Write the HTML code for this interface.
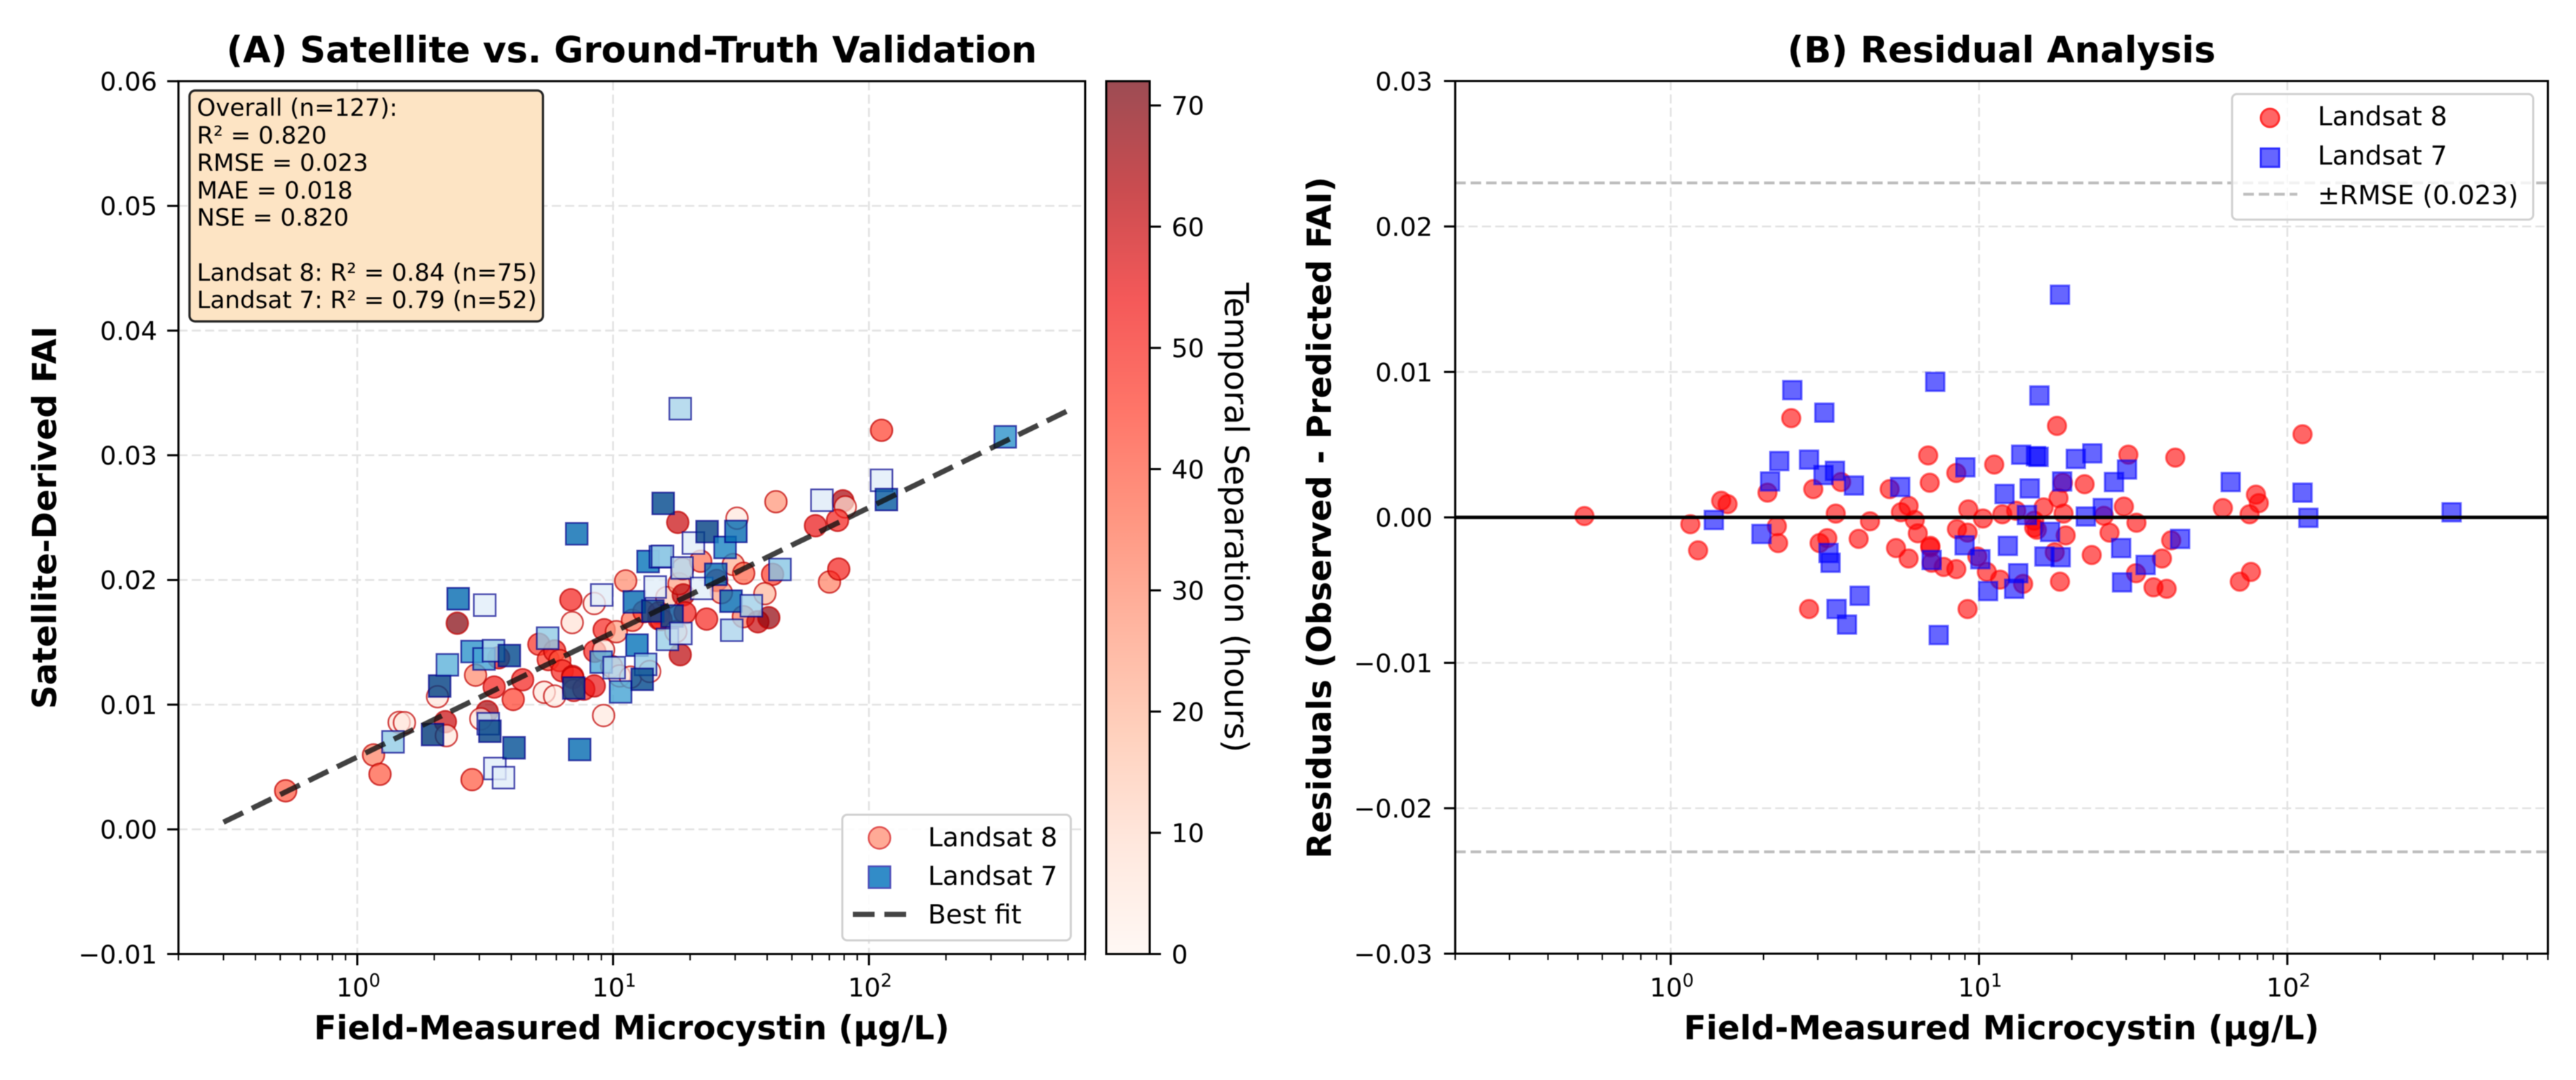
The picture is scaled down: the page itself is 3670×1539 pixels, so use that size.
<!DOCTYPE html>
<html lang="en">
<head>
<meta charset="utf-8">
<title>Satellite vs. Ground-Truth Validation</title>
<style>
html,body{margin:0;padding:0;background:#fff;}
svg{display:block;filter:blur(0.6px);}
text{font-family:"DejaVu Sans","Liberation Sans",sans-serif;fill:#000;}
.tick{font-size:36.7px;}
.leg{font-size:37.5px;}
.sup{font-size:25.7px;}
.bold{font-weight:bold;}
.title{font-size:51.3px;font-weight:bold;}
.axlabel{font-size:47px;font-weight:bold;}
.box{font-size:34.1px;}
</style>
</head>
<body>
<svg id="figure" xmlns="http://www.w3.org/2000/svg" width="3670" height="1539" viewBox="0 0 3670 1539">
  <rect x="0" y="0" width="3670" height="1539" fill="#fff"/>
  <g id="panelA"></g>
  <g id="panelB"></g>

  <text class="title" x="900" y="89" text-anchor="middle">(A) Satellite vs. Ground-Truth Validation</text>
  <text class="title" x="2851.5" y="89" text-anchor="middle">(B) Residual Analysis</text>
  <text class="axlabel" x="900" y="1481" text-anchor="middle">Field-Measured Microcystin (µg/L)</text>
  <text class="axlabel" x="2851.5" y="1481" text-anchor="middle">Field-Measured Microcystin (µg/L)</text>
  <text class="axlabel" transform="translate(80,737.6) rotate(-90)" text-anchor="middle">Satellite-Derived FAI</text>
  <text class="axlabel" transform="translate(1896,737.6) rotate(-90)" text-anchor="middle">Residuals (Observed - Predicted FAI)</text>
  <text transform="translate(1745,737.6) rotate(90)" text-anchor="middle" font-size="47">Temporal Separation (hours)</text>

  <g>
    <rect x="270" y="129" width="503.5" height="329" rx="8" ry="8" fill="#fde4c4" stroke="#222" stroke-width="3.2"/>
    <text class="box" x="280.5" y="165">Overall (n=127):</text>
    <text class="box" x="280.5" y="204.5">R² = 0.820</text>
    <text class="box" x="280.5" y="243.5">RMSE = 0.023</text>
    <text class="box" x="280.5" y="283">MAE = 0.018</text>
    <text class="box" x="280.5" y="321.5">NSE = 0.820</text>
    <text class="box" x="280.5" y="400">Landsat 8: R² = 0.84 (n=75)</text>
    <text class="box" x="280.5" y="439">Landsat 7: R² = 0.79 (n=52)</text>
  </g>

  <g>
    <rect x="1200" y="1161" width="325.5" height="179" rx="7" ry="7" fill="#fff" fill-opacity="0.85" stroke="#d0d0d0" stroke-width="3"/>
    <circle cx="1253" cy="1194" r="15.5" fill="#ffaa96" stroke="#e05050" stroke-width="2.4"/>
    <rect x="1237.5" y="1234.5" width="31" height="31" fill="#328cc8" stroke="#4d4db9" stroke-width="2.4"/>
    <line x1="1215" y1="1303" x2="1292" y2="1303" stroke="#444" stroke-width="7.5" stroke-dasharray="31 14"/>
    <text class="leg" x="1322" y="1206">Landsat 8</text>
    <text class="leg" x="1322" y="1261">Landsat 7</text>
    <text class="leg" x="1322" y="1316">Best fit</text>
  </g>

  <g>
    <rect x="3180" y="134" width="429" height="179" rx="7" ry="7" fill="#fff" fill-opacity="0.8" stroke="#d0d0d0" stroke-width="3"/>
    <circle cx="3234" cy="168" r="13" fill="#ff6666" stroke="#ff2f2f" stroke-width="3"/>
    <rect x="3221" y="211.7" width="26" height="26" fill="#6666ff" stroke="#2f2fff" stroke-width="3"/>
    <line x1="3196" y1="276.7" x2="3273" y2="276.7" stroke="#bdbdbd" stroke-width="4" stroke-dasharray="15 7"/>
    <text class="leg" x="3302" y="178.5">Landsat 8</text>
    <text class="leg" x="3302" y="234.5">Landsat 7</text>
    <text class="leg" x="3302" y="291">±RMSE (0.023)</text>
  </g>
</svg>

<script>
/* ---------- data ---------- */
const l8Field = [0.525,1.158,1.227,1.458,1.529,2.06,2.21,2.23,2.46,2.90,3.43,3.57,4.43,4.07,3.22,3.04,2.81,5.13,5.58,5.91,6.19,6.33,6.95,6.95,5.38,5.91,7.02,7.68,8.44,6.84,6.92,8.44,9.23,10.3,8.48,9.18,9.18,11.2,11.9,13.2,9.87,10.6,11.7,13.9,16.2,18.1,18.7,18.8,15.1,15.1,15.4,19.1,17.6,18.3,22.0,30.5,25.4,29.5,32.4,26.5,23.2,42.0,39.2,32.3,36.8,40.6,43.3,61.8,70.1,17.9,79.1,80.8,75.4,76.2,112];
const l8Residual = [0.00009,-0.00047,-0.00227,0.00114,0.00091,0.0017,-0.00061,-0.00177,0.00682,0.00194,0.00026,0.00243,-0.00027,-0.00148,-0.00143,-0.00177,-0.0063,0.00194,0.00035,0.00079,-0.00018,-0.0011,-0.00196,-0.00206,-0.00211,-0.00283,-0.00312,-0.00341,-0.00356,0.00426,0.00238,0.00305,0.00055,-0.00008,-0.00081,-0.00105,-0.0063,0.00363,0.00021,0.00045,-0.00269,-0.00375,-0.00428,-0.00457,0.00069,0.00132,0.00238,0.00026,-0.00023,-0.00071,-0.00085,-0.00124,-0.0024,-0.00442,0.00228,0.00431,0.00011,0.00074,-0.00037,-0.00105,-0.00259,-0.00158,-0.00283,-0.00384,-0.00481,-0.00491,0.00411,0.00064,-0.00442,0.00629,0.00156,0.00098,0.00021,-0.00375,0.00571];
const l8Hours = [40,32,40,6,5,6,60,5,70,30,52,55,52,45,65,6,40,48,45,50,40,50,50,50,6,4,40,50,55,52,8,4,50,25,50,8,5,30,35,45,25,6,6,6,15,25,20,62,55,50,50,52,15,62,35,6,55,22,38,25,50,45,20,33,60,68,28,55,32,60,65,8,52,52,45];

const l7Field = [1.38,1.97,2.10,2.25,2.48,3.15,2.81,3.13,3.41,3.93,3.25,3.30,3.45,4.10,3.73,5.55,7.21,7.40,9.03,8.98,7.02,10.1,12.1,12.4,10.7,13.4,13.0,13.7,15.3,15.6,20.6,23.3,18.6,14.6,14.3,22.2,25.2,17.0,16.3,18.4,15.7,27.4,30.2,28.9,34.7,29.1,44.9,65.5,18.3,112,117,341];
const l7Residual = [-0.00018,-0.00114,0.00247,0.00387,0.00875,0.0072,0.00397,0.00291,0.0032,0.00219,-0.00245,-0.00312,-0.0063,-0.00539,-0.00737,0.00209,0.00932,-0.00809,0.00344,-0.00192,-0.00293,-0.00288,0.00161,-0.00196,-0.00507,-0.00384,-0.00491,0.00431,0.00421,0.00416,0.00402,0.0044,0.00247,0.00199,0.00016,0.00006,0.00064,-0.001,-0.00269,-0.00274,0.00838,0.00243,0.00329,-0.00211,-0.00327,-0.00447,-0.00148,0.00243,0.01531,0.0017,-0.00003,0.00035];
const l7Hours = [28,68,66,38,56,8,46,42,28,64,20,66,8,62,8,28,56,56,8,40,64,20,56,54,42,28,64,54,42,25,8,66,18,8,64,8,56,62,26,14,64,50,56,56,24,20,30,9,22,8,60,46];

const fitIntercept = 0.0058;
const fitSlope = 0.01;
const fitDomain = [0.3, 600];
const rmseValue = 0.023;

const xDecades = [0, 1, 2];
const xDecadeLabels = ["0", "1", "2"];
const yTicksA = [-0.01, 0, 0.01, 0.02, 0.03, 0.04, 0.05, 0.06];
const yTickLabelsA = ["\u22120.01","0.00","0.01","0.02","0.03","0.04","0.05","0.06"];
const yTicksB = [-0.03, -0.02, -0.01, 0, 0.01, 0.02, 0.03];
const yTickLabelsB = ["\u22120.03","\u22120.02","\u22120.01","0.00","0.01","0.02","0.03"];
const cbarTicks = [0, 10, 20, 30, 40, 50, 60, 70];
const cbarLabels = ["0","10","20","30","40","50","60","70"];
const redsMap = [[255,245,240],[255,222,208],[255,190,162],[255,150,120],[255,105,75],[255,58,40],[240,18,18],[180,0,5],[115,0,10]];
const bluesMap = [[247,251,255],[222,235,248],[180,215,238],[150,205,230],[105,185,222],[50,150,205],[5,115,185],[0,75,145],[0,40,100]];

/* ---------- helpers ---------- */
const NS = 'http://www.w3.org/2000/svg';
function mk(tag, attrs, parent) {
  const e = document.createElementNS(NS, tag);
  for (const k in attrs) e.setAttribute(k, attrs[k]);
  parent.appendChild(e);
  return e;
}
const HOURS_MAX = 72;
function cmap(table, h) {
  const t = Math.max(0, Math.min(1, h / HOURS_MAX)) * (table.length - 1);
  const i = Math.min(table.length - 2, Math.floor(t));
  const f = t - i;
  const c = [0, 1, 2].map(j => Math.round(table[i][j] + (table[i + 1][j] - table[i][j]) * f));
  return 'rgb(' + c.join(',') + ')';
}
function makeScales(x0, x1, y0, y1, yMin, yMax) {
  const lo = Math.log10(0.2), hi = Math.log10(700);
  return {
    x: v => x0 + (Math.log10(v) - lo) / (hi - lo) * (x1 - x0),
    y: v => y0 + (v - yMin) / (yMax - yMin) * (y1 - y0),
    x0, x1, y0, y1
  };
}
const fitValue = x => fitIntercept + fitSlope * Math.log10(x);

const axA = makeScales(254.2, 1546, 1359.5, 115.7, -0.01, 0.06);
const axB = makeScales(2073.2, 3630, 1359, 115.5, -0.03, 0.03);

function drawGrid(ax, yTicks, parent) {
  const g = mk('g', {}, parent);
  
  
  xDecades.forEach(d => {
    const px = ax.x(Math.pow(10, d));
    const l = mk('line', {x1: px, x2: px, y1: ax.y1, y2: ax.y0, stroke: '#e2e2e2', 'stroke-width': 2.6, 'stroke-dasharray': '13 6'}, g);
    
    
  });
  yTicks.forEach(v => {
    const py = ax.y(v);
    const l = mk('line', {x1: ax.x0, x2: ax.x1, y1: py, y2: py, stroke: '#e2e2e2', 'stroke-width': 2.6, 'stroke-dasharray': '13 6'}, g);
    
    
  });
}

function drawAxes(ax, yTicks, yLabels, labelX, parent) {
  const g = mk('g', {}, parent);
  
  
  const frame = mk('rect', {x: ax.x0, y: ax.y1, width: ax.x1 - ax.x0, height: ax.y0 - ax.y1, fill: 'none', stroke: '#000', 'stroke-width': 3}, g);
  
  
  yTicks.forEach((v, i) => {
    const py = ax.y(v);
    const t = mk('line', {x1: ax.x0 - 16, x2: ax.x0, y1: py, y2: py, stroke: '#000', 'stroke-width': 3}, g);
    
    
    const lab = mk('text', {x: labelX, y: py + 13.3, 'text-anchor': 'end', class: 'tick'}, g);
    lab.textContent = yLabels[i];
    
    
  });
  for (let dec = -1; dec <= 2; dec++) {
    for (let m = 2; m <= 9; m++) {
      const v = m * Math.pow(10, dec);
      if (v < 0.2 - 1e-9 || v > 700 + 1e-6) continue;
      const px = ax.x(v);
      const t = mk('line', {x1: px, x2: px, y1: ax.y0, y2: ax.y0 + 9, stroke: '#000', 'stroke-width': 2}, g);
      
      
    }
  }
  xDecades.forEach((d, i) => {
    const px = ax.x(Math.pow(10, d));
    const t = mk('line', {x1: px, x2: px, y1: ax.y0, y2: ax.y0 + 16, stroke: '#000', 'stroke-width': 3}, g);
    
    
    const lab = mk('text', {x: px + 1.5, y: 1420, 'text-anchor': 'middle', class: 'tick'}, g);
    
    
    lab.appendChild(document.createTextNode('10'));
    const sup = mk('tspan', {class: 'sup', dy: -14}, lab);
    sup.textContent = xDecadeLabels[i];
  });
}

/* ---------- panel A ---------- */
const panelA = document.getElementById('panelA');
drawGrid(axA, yTicksA, panelA);

const l8GroupA = mk('g', {}, panelA);


l8Field.forEach((x, i) => {
  const c = mk('circle', {
    cx: axA.x(x), cy: axA.y(fitValue(x) + l8Residual[i]), r: 15.5,
    fill: cmap(redsMap, l8Hours[i]), 'fill-opacity': 0.7,
    stroke: '#c00000', 'stroke-opacity': 0.7, 'stroke-width': 2.4
  }, l8GroupA);
  
  
});

const l7GroupA = mk('g', {}, panelA);


l7Field.forEach((x, i) => {
  const s = mk('rect', {
    x: axA.x(x) - 15.5, y: axA.y(fitValue(x) + l7Residual[i]) - 15.5, width: 31, height: 31,
    fill: cmap(bluesMap, l7Hours[i]), 'fill-opacity': 0.8,
    stroke: '#00008b', 'stroke-opacity': 0.7, 'stroke-width': 2.4
  }, l7GroupA);
  
  
});

const fitLine = mk('line', {
  x1: axA.x(fitDomain[0]), y1: axA.y(fitValue(fitDomain[0])),
  x2: axA.x(fitDomain[1]), y2: axA.y(fitValue(fitDomain[1])),
  stroke: '#111', 'stroke-opacity': 0.8, 'stroke-width': 7.5, 'stroke-dasharray': '31 14'
}, panelA);



drawAxes(axA, yTicksA, yTickLabelsA, 224, panelA);

/* colorbar */
const cbX0 = 1576, cbX1 = 1638, cbTop = 115.7, cbBottom = 1359.5;
const cbY = h => cbBottom + (cbTop - cbBottom) * h / HOURS_MAX;
const cbG = mk('g', {}, panelA);


const defs = mk('defs', {}, cbG);
const grad = mk('linearGradient', {id: 'cbGrad', x1: 0, y1: 1, x2: 0, y2: 0}, defs);
for (let i = 0; i <= 16; i++) {
  mk('stop', {offset: i / 16, 'stop-color': cmap(redsMap, HOURS_MAX * i / 16), 'stop-opacity': 0.7}, grad);
}
const cbRect = mk('rect', {x: cbX0, y: cbTop, width: cbX1 - cbX0, height: cbBottom - cbTop, fill: 'url(#cbGrad)', stroke: '#000', 'stroke-width': 3}, cbG);


cbarTicks.forEach((h, i) => {
  const t = mk('line', {x1: cbX1, x2: cbX1 + 16, y1: cbY(h), y2: cbY(h), stroke: '#000', 'stroke-width': 3}, cbG);
  
  
  const lab = mk('text', {x: 1669, y: cbY(h) + 13.3, class: 'tick'}, cbG);
  lab.textContent = cbarLabels[i];
  
  
});

/* ---------- panel B ---------- */
const panelB = document.getElementById('panelB');
drawGrid(axB, yTicksB, panelB);

[rmseValue, -rmseValue].forEach(v => {
  const l = mk('line', {x1: axB.x0, x2: axB.x1, y1: axB.y(v), y2: axB.y(v), stroke: '#bdbdbd', 'stroke-width': 4, 'stroke-dasharray': '15 7'}, panelB);
  
  
});

const l8GroupB = mk('g', {}, panelB);


l8Field.forEach((x, i) => {
  const c = mk('circle', {
    cx: axB.x(x), cy: axB.y(l8Residual[i]), r: 13,
    fill: '#ff0000', 'fill-opacity': 0.6,
    stroke: '#ff0000', 'stroke-opacity': 0.55, 'stroke-width': 3
  }, l8GroupB);
  
  
});

const l7GroupB = mk('g', {}, panelB);


l7Field.forEach((x, i) => {
  const s = mk('rect', {
    x: axB.x(x) - 13, y: axB.y(l7Residual[i]) - 13, width: 26, height: 26,
    fill: '#0000ff', 'fill-opacity': 0.6,
    stroke: '#0000ff', 'stroke-opacity': 0.55, 'stroke-width': 3
  }, l7GroupB);
  
  
});

const zeroLine = mk('line', {x1: axB.x0, x2: axB.x1, y1: axB.y(0), y2: axB.y(0), stroke: '#000', 'stroke-width': 5}, panelB);



drawAxes(axB, yTicksB, yTickLabelsB, 2041, panelB);
</script>
</body>
</html>
